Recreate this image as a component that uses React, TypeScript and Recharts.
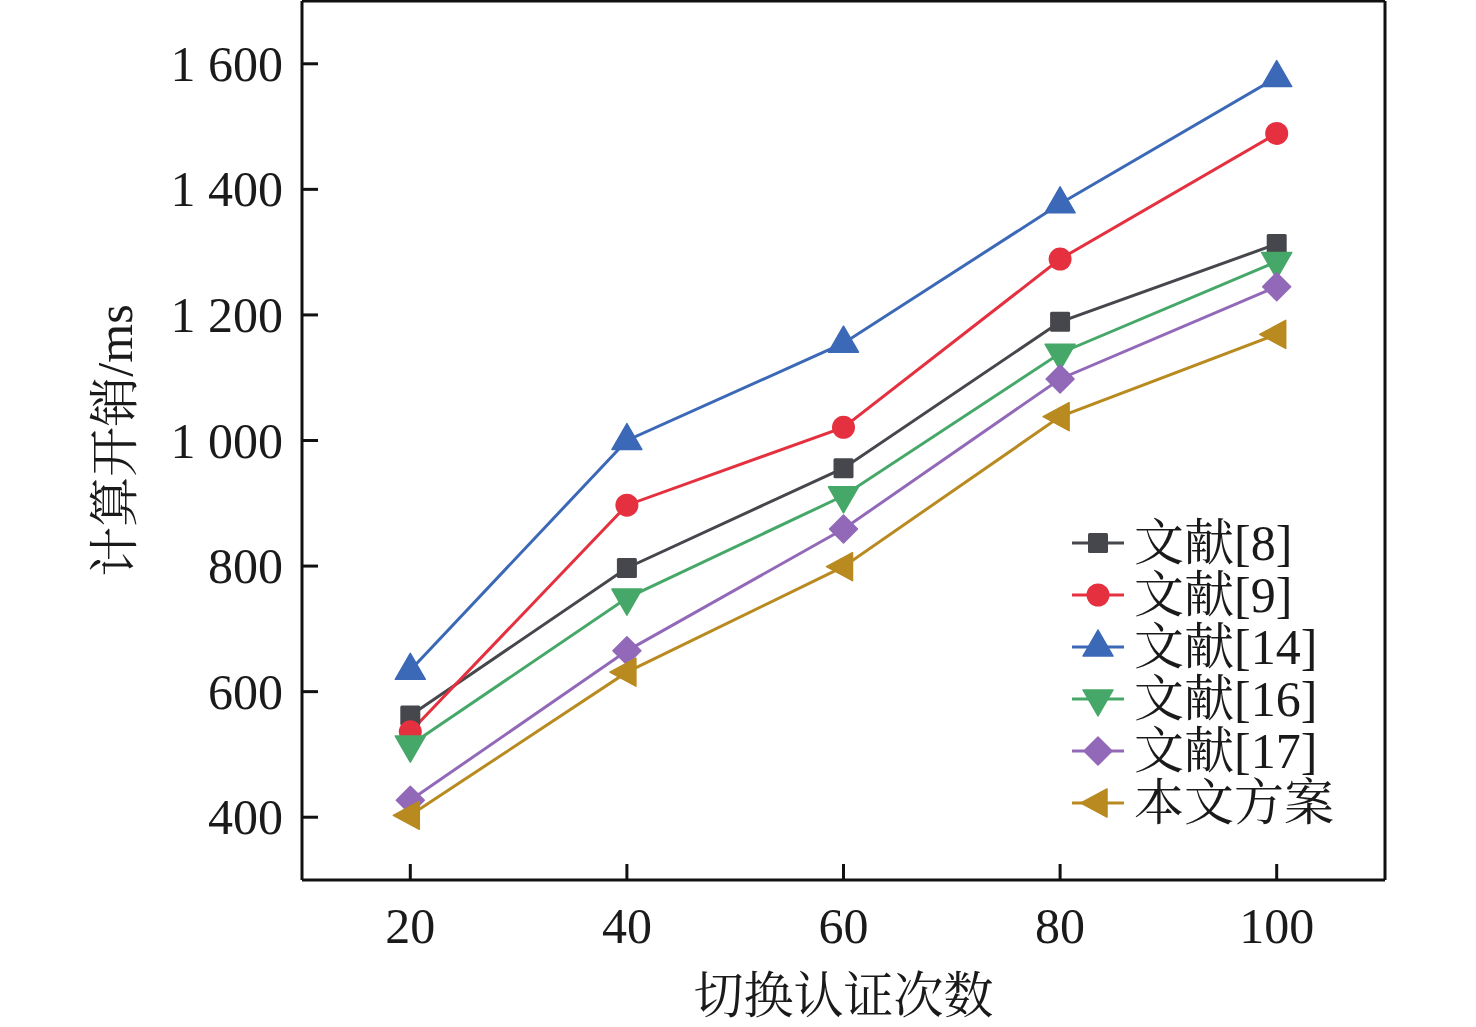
import React from 'react';
import { LineChart, Line, XAxis, YAxis, ReferenceLine } from 'recharts';

const xValues = [20, 40, 60, 80, 100];
const ref8 = [562, 797, 956, 1189, 1313];
const ref9 = [536, 897, 1021, 1289, 1489];
const ref14 = [634, 1000, 1155, 1377, 1578];
const ref16 = [515, 749, 912, 1139, 1285];
const ref17 = [427, 665, 859, 1098, 1245];
const ours = [403, 631, 799, 1038, 1169];

const seriesNames = ['文献[8]', '文献[9]', '文献[14]', '文献[16]', '文献[17]', '本文方案'];
const seriesKeys = ['r8', 'r9', 'r14', 'r16', 'r17', 'ours'];
const seriesColors = ['#46474c', '#e5303f', '#3b69b7', '#46a868', '#9268b8', '#b88a1f'];
const seriesShapes = ['square', 'circle', 'up', 'down', 'diamond', 'left'];

const yTicks = [400, 600, 800, 1000, 1200, 1400, 1600];
const xTicks = [20, 40, 60, 80, 100];

const data = xValues.map((x, i) => ({
  x,
  r8: ref8[i],
  r9: ref9[i],
  r14: ref14[i],
  r16: ref16[i],
  r17: ref17[i],
  ours: ours[i],
}));

const FONT = "'Liberation Serif', 'Times New Roman', 'Noto Serif CJK SC', 'Noto Sans CJK SC', serif";
const TEXT = '#1a1a1a';
const AXIS = '#111111';

function Marker({ shape, cx, cy, color }: { shape: string; cx: number; cy: number; color: string }) {
  if (cx == null || cy == null) return null;
  switch (shape) {
    case 'square':
      return <rect x={cx - 10} y={cy - 10} width={20} height={20} fill={color} rx={1.5} />;
    case 'circle':
      return <circle cx={cx} cy={cy} r={11.5} fill={color} />;
    case 'up':
      return <polygon points={`${cx},${cy - 17} ${cx + 15},${cy + 9} ${cx - 15},${cy + 9}`} fill={color} strokeLinejoin="round" stroke={color} strokeWidth={1.5} />;
    case 'down':
      return <polygon points={`${cx},${cy + 17} ${cx + 15},${cy - 9} ${cx - 15},${cy - 9}`} fill={color} strokeLinejoin="round" stroke={color} strokeWidth={1.5} />;
    case 'diamond':
      return <polygon points={`${cx},${cy - 14} ${cx + 14},${cy} ${cx},${cy + 14} ${cx - 14},${cy}`} fill={color} strokeLinejoin="round" stroke={color} strokeWidth={1.5} />;
    case 'left':
      return <polygon points={`${cx - 17},${cy} ${cx + 9},${cy - 14} ${cx + 9},${cy + 14}`} fill={color} strokeLinejoin="round" stroke={color} strokeWidth={1.5} />;
    default:
      return null;
  }
}

function formatY(v: number) {
  if (v >= 1000) {
    return `${Math.floor(v / 1000)} ${String(v % 1000).padStart(3, '0')}`;
  }
  return String(v);
}

const YTick = (props: any) => {
  const { x, y, payload } = props;
  const axisX = x + 19;
  return (
    <g>
      <line x1={axisX} x2={axisX + 16} y1={y} y2={y} stroke={AXIS} strokeWidth={3} />
      <text x={x} y={y} dy={17} textAnchor="end" fontFamily={FONT} fontSize={50} fill={TEXT}>
        {formatY(payload.value)}
      </text>
    </g>
  );
};

const XTick = (props: any) => {
  const { x, y, payload } = props;
  return (
    <g>
      <line x1={x} x2={x} y1={y} y2={y - 16} stroke={AXIS} strokeWidth={3} />
      <text x={x} y={y + 63} textAnchor="middle" fontFamily={FONT} fontSize={50} fill={TEXT}>
        {payload.value}
      </text>
    </g>
  );
};

const LegendBox = () => (
  <div
    style={{
      position: 'absolute',
      left: 1070,
      top: 517,
      fontFamily: FONT,
      fontSize: 50,
      color: TEXT,
      lineHeight: '52px',
    }}
  >
    {seriesNames.map((name, i) => (
      <div key={name} style={{ display: 'flex', alignItems: 'center', height: 52, whiteSpace: 'nowrap' }}>
        <svg width={64} height={52} style={{ display: 'block' }}>
          <line x1={2} x2={54} y1={26} y2={26} stroke={seriesColors[i]} strokeWidth={3} />
          <Marker shape={seriesShapes[i]} cx={28} cy={26} color={seriesColors[i]} />
        </svg>
        <span>{name}</span>
      </div>
    ))}
  </div>
);

export default function App() {
  return (
    <div style={{ position: 'absolute', left: 0, top: 0, width: 1476, height: 1027, background: '#fff' }}>
      <LineChart width={1476} height={1027} data={data} margin={{ top: 1, right: 91, left: 0, bottom: 0 }}>
        <XAxis
          dataKey="x"
          type="number"
          domain={[10, 110]}
          ticks={xTicks}
          height={147}
          axisLine={{ stroke: AXIS, strokeWidth: 3 }}
          tickLine={false}
          tickSize={0}
          tickMargin={0}
          tick={<XTick />}
          interval={0}
          label={{
            value: '切换认证次数',
            position: 'insideBottom',
            offset: 14,
            fontFamily: FONT,
            fontSize: 50,
            fill: TEXT,
          }}
        />
        <YAxis
          type="number"
          domain={[300, 1700]}
          ticks={yTicks}
          width={302}
          axisLine={{ stroke: AXIS, strokeWidth: 3 }}
          tickLine={false}
          tickSize={0}
          tickMargin={19}
          tick={<YTick />}
          interval={0}
          label={{
            value: '计算开销/ms',
            angle: -90,
            position: 'insideLeft',
            offset: 114,
            fontFamily: FONT,
            fontSize: 50,
            fill: TEXT,
            style: { textAnchor: 'middle' },
          }}
        />
        <ReferenceLine y={1700} stroke={AXIS} strokeWidth={3} />
        <ReferenceLine x={110} stroke={AXIS} strokeWidth={3} />
        {seriesKeys.map((k, i) => (
          <Line
            key={k}
            dataKey={k}
            name={seriesNames[i]}
            stroke={seriesColors[i]}
            strokeWidth={3}
            isAnimationActive={false}
            dot={(p: any) => <Marker key={`${k}-${p.index}`} shape={seriesShapes[i]} cx={p.cx} cy={p.cy} color={seriesColors[i]} />}
            activeDot={false}
          />
        ))}
      </LineChart>
      <LegendBox />
    </div>
  );
}
